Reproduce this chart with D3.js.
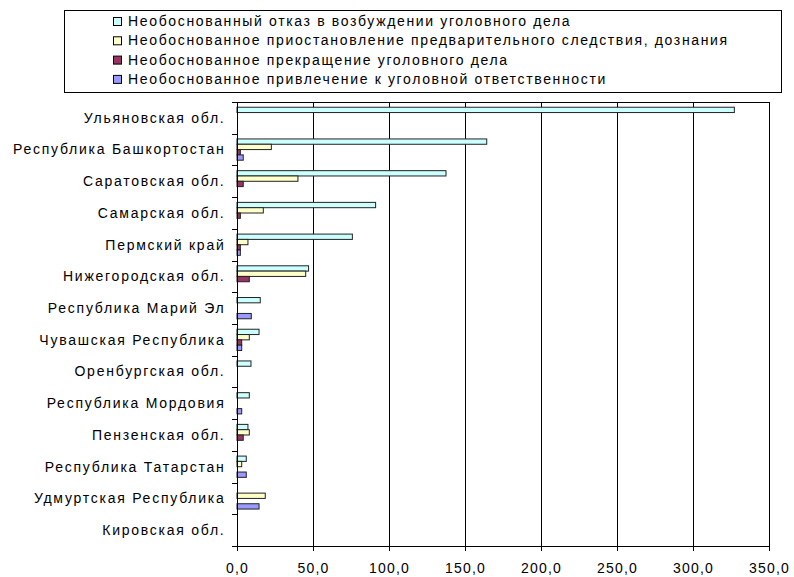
<!DOCTYPE html>
<html><head><meta charset="utf-8">
<script src="https://cdn.jsdelivr.net/npm/d3@7"></script>
<style>body{margin:0;background:#fff}svg{display:block;font-family:"Liberation Sans",Arial,sans-serif}</style>
</head><body><svg id="c" width="794" height="577"></svg>
<script>
const categories = ["Ульяновская обл.","Республика Башкортостан","Саратовская обл.","Самарская обл.","Пермский край","Нижегородская обл.","Республика Марий Эл","Чувашская Республика","Оренбургская обл.","Республика Мордовия","Пензенская обл.","Республика Татарстан","Удмуртская Республика","Кировская обл."];
const seriesNames = ["Необоснованный отказ в возбуждении уголовного дела","Необоснованное приостановление предварительного следствия, дознания","Необоснованное прекращение уголовного дела","Необоснованное привлечение к уголовной ответственности"];
const refusal   = [327.2,164.3,137.5,91.2,75.9,47.1,15.3,14.5,9.2,8.1,7.2,6.1,0,0];
const suspension= [0,22.6,40.1,17.3,7.2,45.2,0,8.1,0,0,8.1,3.1,18.6,0];
const termination=[0,2.2,4.1,2.2,2.2,8.1,0,3.1,0,0,4.1,0,0,0];
const prosecution=[0,4.1,0,0,2.2,0,9.4,3.1,0,3.1,0,6.1,14.5,0];
const xTicks = [0,50,100,150,200,250,300,350];
const colors = ["#CCFFFF","#FFFFCC","#993366","#9999FF"];
const series = [refusal,suspension,termination,prosecution];

const svg = d3.select("#c");
const L=237,R=769,T=102,B=546;
const x = d3.scaleLinear().domain([0,350]).range([L,R]);
const y = d3.scaleBand().domain(categories).range([T,B]).paddingInner(0.33).paddingOuter(0.165);
const ys = d3.scaleBand().domain(d3.range(4)).range([0,y.bandwidth()]);

// gridlines
svg.append("g").selectAll("line").data(xTicks.slice(1)).join("line")
  .attr("x1",d=>x(d)).attr("x2",d=>x(d)).attr("y1",T).attr("y2",B)
  .attr("stroke","#000").attr("stroke-width",1).attr("shape-rendering","crispEdges");
svg.append("line").attr("x1",L).attr("x2",R).attr("y1",T+0.5).attr("y2",T+0.5).attr("stroke","#000");

// bars
const g = svg.append("g");
series.forEach((vals,si)=>{
  g.append("g").selectAll("rect").data(vals.map((v,i)=>({v,c:categories[i]})).filter(d=>d.v>0)).join("rect")
   .attr("x",x(0)).attr("y",d=>y(d.c)+ys(si))
   .attr("width",d=>x(d.v)-x(0)).attr("height",ys.bandwidth())
   .attr("fill",colors[si]).attr("stroke","#222").attr("stroke-width",1);
});

// x axis
const xa = svg.append("g").attr("transform",`translate(0,${B})`)
  .call(d3.axisBottom(x).tickValues(xTicks).tickSize(5).tickSizeOuter(0).tickPadding(12)
  .tickFormat(d=>d3.format(".1f")(d).replace(".",",")));
xa.select(".domain").attr("stroke","#000");
xa.selectAll("text").attr("font-size",14).attr("fill","#000").attr("letter-spacing","1.2px")
  .attr("font-family","Liberation Sans, Arial, sans-serif");

// y axis
const yEdges = categories.map((c,i)=>T+i*(B-T)/categories.length).concat([B]);
svg.append("line").attr("x1",L+0.5).attr("x2",L+0.5).attr("y1",T).attr("y2",B).attr("stroke","#000");
svg.append("g").selectAll("line").data(yEdges).join("line")
  .attr("x1",L-5).attr("x2",L).attr("y1",d=>Math.round(d)+0.5).attr("y2",d=>Math.round(d)+0.5).attr("stroke","#000");
svg.append("g").selectAll("text").data(categories).join("text")
  .attr("x",225.5).attr("y",d=>y(d)+y.bandwidth()/2).attr("dy","0.35em")
  .attr("text-anchor","end").attr("font-size",14).attr("letter-spacing","1.75px").text(d=>d);

// legend
svg.append("rect").attr("x",64.5).attr("y",10.5).attr("width",717).attr("height",82).attr("fill","#fff").attr("stroke","#000");
const lg = svg.append("g").selectAll("g").data(seriesNames).join("g")
  .attr("transform",(d,i)=>`translate(113,${21+i*19.3})`);
lg.append("rect").attr("x",0.5).attr("y",-3.5).attr("width",8).attr("height",8).attr("fill",(d,i)=>colors[i]).attr("stroke","#000");
lg.append("text").attr("x",15).attr("y",0).attr("dy","0.35em").attr("font-size",14).attr("letter-spacing","1.65px").text(d=>d);
</script></body></html>
